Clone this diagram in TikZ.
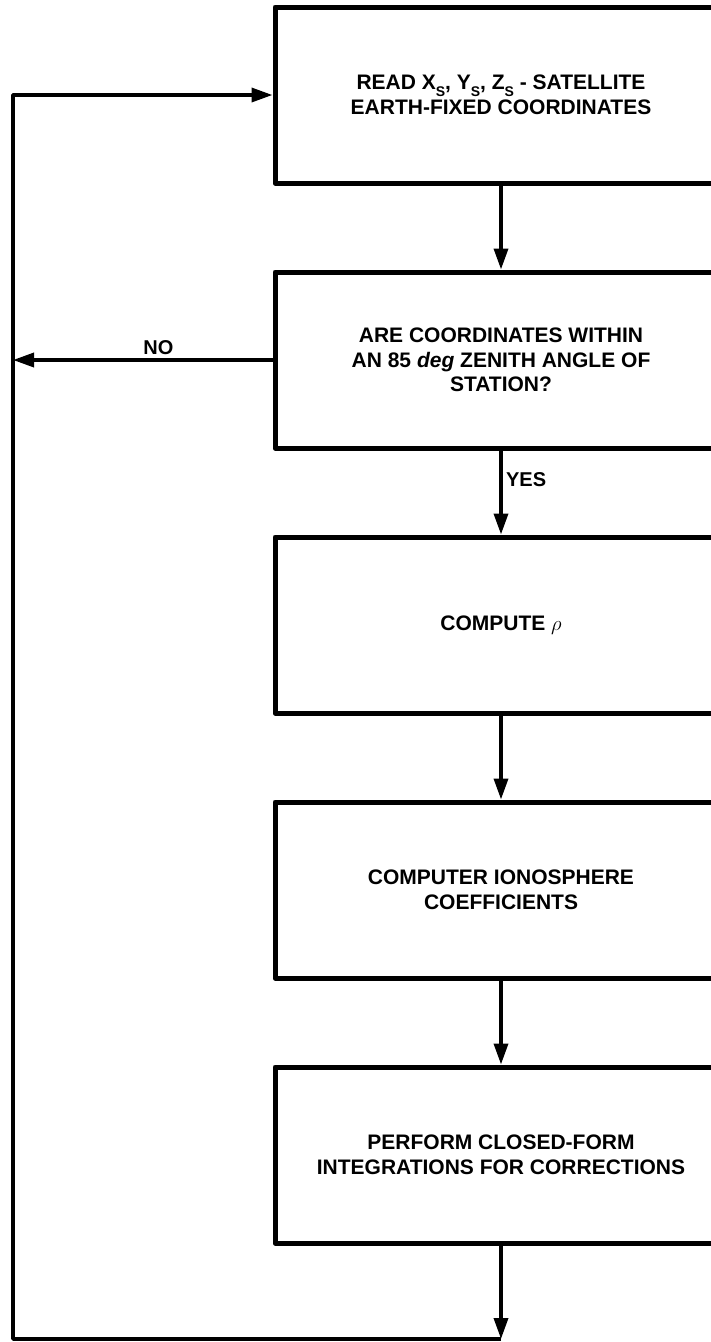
\documentclass[tikz,border=0pt]{standalone}
\usepackage{fontspec}
\setmainfont{Liberation Sans}
\usetikzlibrary{positioning,arrows.meta,calc}
\tikzset{
node distance=265pt, % centre to centre, boxes are on grid
>={Triangle[length=21pt,width=14pt]}, % filled heads
block/.style={draw, line width=5pt, minimum width=452pt, minimum height=176pt,
  align=center, font=\fontsize{21}{24.5}\selectfont\bfseries},
lbl/.style={font=\fontsize{20}{24}\selectfont\bfseries},
}
\newcommand{\subS}{\raisebox{-0.3em}{\fontsize{14}{14}\selectfont S}}
\begin{document}
\begin{tikzpicture}[on grid,auto,line width=3.5pt,line join=round]
        \useasboundingbox (0,0) rectangle (711pt,-1342pt);
        \node[block] (s_1) at (501pt,-95pt) {READ X\subS, Y\subS, Z\subS{} - SATELLITE\\EARTH-FIXED COORDINATES};
        \node[block] (s_2) [below=of s_1] {ARE COORDINATES WITHIN\\AN 85 \textit{deg} ZENITH ANGLE OF\\STATION?};
        \node[block] (s_3) [below=of s_2] {COMPUTE $\rho$};
        \node[block] (s_4) [below=of s_3] {COMPUTER IONOSPHERE\\COEFFICIENTS};
        \node[block] (s_5) [below=of s_4] {PERFORM CLOSED-FORM\\INTEGRATIONS FOR CORRECTIONS};
        \coordinate (c_b) at (501pt,-1339pt);
        \coordinate (c_l) at (13pt,-1339pt);
        \path[->]
        (s_1) edge (s_2)
        (s_2) edge node[lbl,pos=0.35] {YES} (s_3)
        (s_3) edge (s_4)
        (s_4) edge (s_5)
        (s_5) edge (c_b);
        % loop back to the top
        \draw[->] (c_b) -- (c_l) |- (s_1);
        \draw[->] (s_2) -- node[lbl,above,pos=0.44] {NO} (s_2 -| c_l);
\end{tikzpicture}
\end{document}
